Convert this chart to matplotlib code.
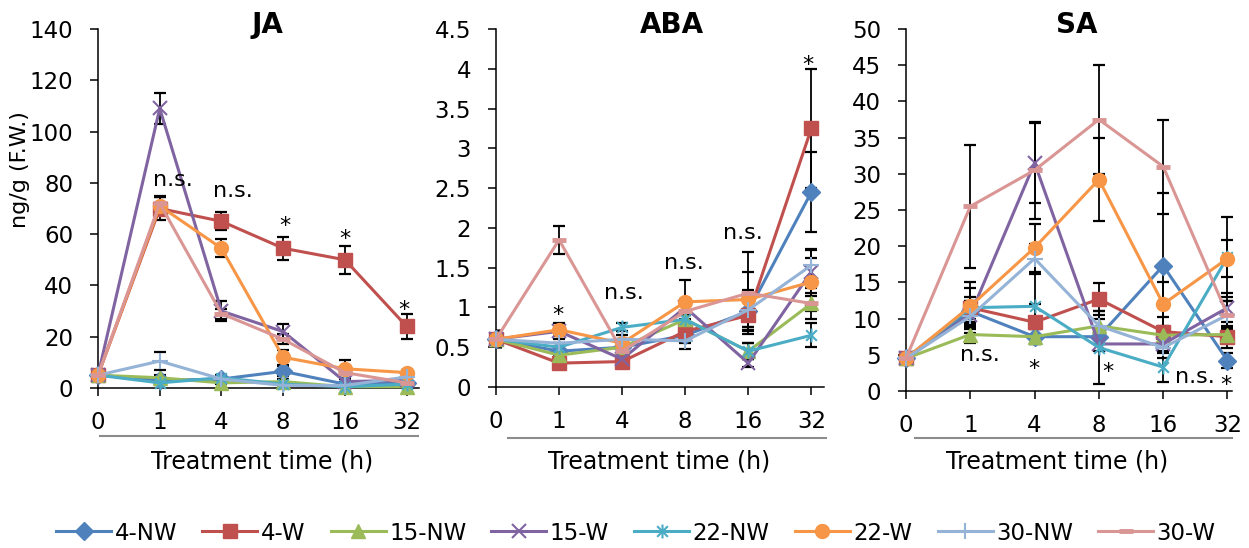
import numpy as np
import matplotlib.pyplot as plt
from matplotlib.path import Path
from matplotlib.lines import Line2D

plt.rcParams['font.family'] = 'DejaVu Sans'

times = ['0', '1', '4', '8', '16', '32']
series = ['4-NW', '4-W', '15-NW', '15-W', '22-NW', '22-W', '30-NW', '30-W']

# mean values, one row per series (order as in `series`)
ja_mean = [
    [5, 3, 3.5, 6.5, 1.5, 2],
    [5, 70, 65, 54.5, 50, 24],
    [5, 4, 2, 2.5, 0.5, 0.5],
    [5, 109, 30, 22, 2.5, 3],
    [5, 2, 4, 1.5, 0.5, 1.5],
    [5, 71, 54.5, 12, 7.5, 6],
    [5, 10.5, 3.5, 1, 1, 4.3],
    [5, 72, 29, 19, 6, 2],
]
ja_err = [
    [0.5, 1, 1, 2, 1, 1],
    [1, 4.5, 3.5, 4.5, 5.5, 5],
    [0.5, 1, 0.5, 1, 0.3, 0.3],
    [1, 6, 4, 3, 1, 1],
    [0.5, 1, 1, 0.5, 0.3, 1],
    [1, 3.5, 3.5, 3, 3.5, 1],
    [1, 3.5, 1, 0.5, 0.5, 1],
    [1, 3, 2, 2, 2, 1],
]

aba_mean = [
    [0.6, 0.45, 0.5, 0.65, 0.95, 2.45],
    [0.6, 0.3, 0.32, 0.7, 0.9, 3.25],
    [0.6, 0.4, 0.5, 0.85, 0.45, 1.05],
    [0.6, 0.7, 0.35, 1.0, 0.3, 1.45],
    [0.6, 0.5, 0.75, 0.85, 0.45, 0.65],
    [0.6, 0.72, 0.55, 1.07, 1.1, 1.32],
    [0.6, 0.55, 0.6, 0.58, 0.97, 1.53],
    [0.6, 1.85, 0.45, 0.95, 1.18, 1.05],
]
aba_err = [
    [0.1, 0.05, 0.05, 0.1, 0.2, 0.5],
    [0.1, 0.05, 0.05, 0.1, 0.2, 0.75],
    [0.1, 0.05, 0.05, 0.1, 0.1, 0.2],
    [0.1, 0.05, 0.05, 0.1, 0.05, 0.27],
    [0.1, 0.05, 0.05, 0.05, 0.1, 0.15],
    [0.1, 0.08, 0.05, 0.28, 0.35, 0.3],
    [0.1, 0.05, 0.05, 0.1, 0.25, 0.2],
    [0.1, 0.18, 0.05, 0.1, 0.52, 0.1],
]

sa_mean = [
    [4.5, 11, 7.5, 7.5, 17.3, 4.2],
    [4.5, 11.5, 9.5, 12.7, 8.2, 7.5],
    [4.5, 7.8, 7.5, 9, 7.7, 7.8],
    [4.5, 10.5, 31.5, 6.5, 6.5, 11.5],
    [4.5, 11.5, 11.7, 6, 3.3, 18.5],
    [4.5, 11.7, 19.8, 29.2, 12, 18.3],
    [4.5, 10.3, 18.3, 9, 6, 10.5],
    [4.5, 25.5, 30.5, 37.5, 31, 10.5],
]
sa_err = [
    [0.3, 1.5, 1, 1, 10, 1],
    [0.3, 3.5, 2.5, 2.2, 2, 1.5],
    [0.3, 1.2, 1, 1, 1, 1],
    [0.3, 2, 5.5, 1, 1, 2],
    [0.3, 1.5, 4.5, 5, 2, 5.5],
    [0.3, 2.5, 3.3, 5.7, 3, 2.5],
    [0.3, 1.5, 2, 2, 1.5, 2],
    [0.3, 8.5, 6.7, 7.5, 6.5, 2],
]

ja_yticks = [0, 20, 40, 60, 80, 100, 120, 140]
aba_yticks = [0, 0.5, 1, 1.5, 2, 2.5, 3, 3.5, 4, 4.5]
aba_ylabels = ['0', '0.5', '1', '1.5', '2', '2.5', '3', '3.5', '4', '4.5']
sa_yticks = [0, 5, 10, 15, 20, 25, 30, 35, 40, 45, 50]

# significance marks: (x position in categories, y, text)
ja_marks = [(1.21, 81, 'n.s.'), (2.18, 77, 'n.s.'), (3.03, 66, '*'),
            (4.0, 61, '*'), (4.95, 33, '*')]
aba_marks = [(0.98, 0.99, '*'), (2.02, 1.18, 'n.s.'), (2.98, 1.56, 'n.s.'),
             (3.92, 1.93, 'n.s.'), (4.95, 4.13, '*')]
sa_marks = [(1.15, 5.0, 'n.s.'), (1.99, 4.0, '*'), (3.14, 3.6, '*'),
            (4.49, 2.0, 'n.s.'), (4.98, 1.8, '*')]

colors = ['#4F81BD', '#C0504D', '#9BBB59', '#8064A2',
          '#4BACC6', '#F79646', '#95B3D7', '#D99694']
star = Path([(-1, -1), (1, 1), (-1, 1), (1, -1), (0, -1.3), (0, 1.3)],
            [Path.MOVETO, Path.LINETO, Path.MOVETO, Path.LINETO,
             Path.MOVETO, Path.LINETO])
markers = ['D', 's', '^', 'x', star, 'o', '+', '_']
msizes = [9, 10, 10, 10, 10, 10, 12, 10]
mews = [1, 1, 1, 1.5, 1.5, 1, 1.5, 3.5]

W, H = 1249, 548
fig = plt.figure(figsize=(W / 100, H / 100), dpi=100)


def px_box(left, top, right, bottom):
    return [left / W, 1 - bottom / H, (right - left) / W, (bottom - top) / H]


panels = [
    ('JA', ja_mean, ja_err, ja_yticks, None, ja_marks,
     px_box(98, 29, 419, 388), 5.2, (100, 418, 436), 267, 262),
    ('ABA', aba_mean, aba_err, aba_yticks, aba_ylabels, aba_marks,
     px_box(496, 29, 824, 387), 5.2, (508, 826, 438), 672, 659),
    ('SA', sa_mean, sa_err, sa_yticks, None, sa_marks,
     px_box(906, 29, 1232, 391), 5.07, (915, 1232, 438), 1077, 1057),
]

x = np.arange(len(times))
for (title, mean, err, yticks, ylabels, marks, box, xmax, uline,
     tx, lx) in panels:
    ax = fig.add_axes(box)
    for i, name in enumerate(series):
        ax.errorbar(x, mean[i], yerr=err[i], fmt='none', ecolor='black',
                    elinewidth=1.3, capsize=4.5, capthick=1.6, zorder=2)
        ax.plot(x, mean[i], color=colors[i], lw=2.2, marker=markers[i],
                ms=msizes[i], mew=mews[i], mec=colors[i], mfc=colors[i],
                label=name, zorder=3 + i, clip_on=False)
    ax.set_xlim(0, xmax)
    ax.set_ylim(yticks[0], yticks[-1])
    ax.set_xticks(x)
    ax.set_xticklabels(times)
    ax.set_yticks(yticks)
    if ylabels is not None:
        ax.set_yticklabels(ylabels)
    for s in ['top', 'right']:
        ax.spines[s].set_visible(False)
    for s in ['left', 'bottom']:
        ax.spines[s].set_linewidth(1.1)
    ax.tick_params(axis='both', length=5.8, width=1.1, labelsize=16.5)
    ax.tick_params(axis='x', pad=11)
    ax.tick_params(axis='y', pad=12)
    for mx, my, txt in marks:
        dy = -5 if txt == '*' else 0
        ax.annotate(txt, (mx, my), xytext=(0, dy), textcoords='offset points',
                    ha='center', va='center', fontsize=16, zorder=20)
    fig.text(tx / W, 1 - 33 / H, title, ha='center', va='baseline',
             fontsize=20, fontweight='bold')
    fig.text(lx / W, 1 - 468 / H, 'Treatment time (h)', ha='center',
             va='baseline', fontsize=17)
    fig.add_artist(Line2D([uline[0] / W, uline[1] / W],
                          [1 - uline[2] / H, 1 - uline[2] / H],
                          color='#8c8c8c', lw=1.5))
    if title == 'JA':
        handles, labels = ax.get_legend_handles_labels()

fig.text(20 / W, 1 - 170 / H, 'ng/g (F.W.)', rotation=90, ha='center',
         va='center', fontsize=16)

fig.legend(handles, labels, loc='center', bbox_to_anchor=(636 / W, 1 - 533 / H),
           ncol=8, frameon=False, fontsize=16.5, handlelength=2.4,
           handletextpad=0.15, columnspacing=1.1)

fig.savefig('out.png', dpi=100)
